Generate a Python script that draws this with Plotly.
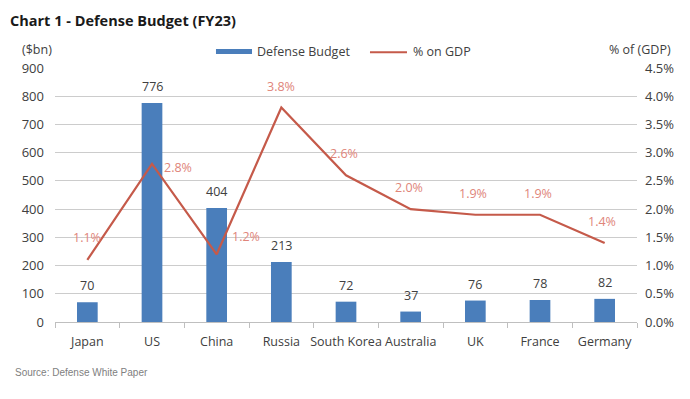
import plotly.graph_objects as go

countries = ["Japan", "US", "China", "Russia", "South Korea", "Australia", "UK", "France", "Germany"]
budget_bn = [70, 776, 404, 213, 72, 37, 76, 78, 82]
pct_gdp = [1.1, 2.8, 1.2, 3.8, 2.6, 2.0, 1.9, 1.9, 1.4]
pct_labels = ["1.1%", "2.8%", "1.2%", "3.8%", "2.6%", "2.0%", "1.9%", "1.9%", "1.4%"]
left_ticks = [0, 100, 200, 300, 400, 500, 600, 700, 800, 900]
right_ticks = [0, 0.5, 1.0, 1.5, 2.0, 2.5, 3.0, 3.5, 4.0, 4.5]
right_tick_text = ["0.0%", "0.5%", "1.0%", "1.5%", "2.0%", "2.5%", "3.0%", "3.5%", "4.0%", "4.5%"]

# label placement offsets (pixels) for the % labels: (xanchor, xshift, yanchor, yshift)
pct_offsets = [
    ("center", 0, "bottom", 12),
    ("left", 10, "middle", -4),
    ("left", 13, "middle", 18),
    ("center", 0, "bottom", 11),
    ("center", -2, "bottom", 11),
    ("center", -2, "bottom", 11),
    ("center", -2, "bottom", 11),
    ("center", -2, "bottom", 11),
    ("center", -3, "bottom", 11),
]

FONT = "Open Sans"
TXT = "#404040"
BAR = "#4A7EBB"
LINE = "#C55A4A"

fig = go.Figure()
fig.add_trace(go.Bar(
    x=countries, y=budget_bn, name="Defense Budget",
    marker=dict(color=BAR, line=dict(width=0)),
    width=0.32, showlegend=False,
))
fig.add_trace(go.Scatter(
    x=countries, y=pct_gdp, name="% on GDP", yaxis="y2",
    mode="lines", line=dict(color=LINE, width=2.2), showlegend=False,
))

for c, v in zip(countries, budget_bn):
    fig.add_annotation(x=c, y=v, xref="x", yref="y", text=str(v), showarrow=False,
                       yanchor="bottom", yshift=6,
                       font=dict(family=FONT, size=12.5, color=TXT))

for c, v, t, (xa, xs, ya, ys) in zip(countries, pct_gdp, pct_labels, pct_offsets):
    fig.add_annotation(x=c, y=v, xref="x", yref="y2", text=t, showarrow=False,
                       xanchor=xa, xshift=xs, yanchor=ya, yshift=ys,
                       font=dict(family=FONT, size=12.5, color="#E0857A"))

# custom legend (wide bar swatch, line swatch)
fig.add_shape(type="rect", xref="paper", yref="paper", x0=0.2766, x1=0.3385,
              y0=1.0551, y1=1.0748, fillcolor=BAR, line=dict(width=0))
fig.add_annotation(text="Defense Budget", xref="paper", yref="paper", x=0.3436, y=1.066,
                   xanchor="left", yanchor="middle", showarrow=False,
                   font=dict(family=FONT, size=12.5, color=TXT))
fig.add_shape(type="line", xref="paper", yref="paper", x0=0.5412, x1=0.6048,
              y0=1.062, y1=1.062, line=dict(color=LINE, width=2.2))
fig.add_annotation(text="% on GDP", xref="paper", yref="paper", x=0.611, y=1.066,
                   xanchor="left", yanchor="middle", showarrow=False,
                   font=dict(family=FONT, size=12.5, color=TXT))

fig.update_layout(
    width=682, height=391,
    margin=dict(l=47, r=53, t=60, b=77, autoexpand=False),
    paper_bgcolor="white", plot_bgcolor="white",
    font=dict(family=FONT, size=12, color=TXT),
    showlegend=False,
    xaxis=dict(
        type="category", showgrid=False, showline=True, linecolor="#bfbfbf", linewidth=1,
        ticks="outside", tickson="boundaries", ticklen=5, tickcolor="#bfbfbf",
        tickangle=0, automargin=False, ticklabelstandoff=8,
        tickfont=dict(family=FONT, size=12.5, color=TXT),
    ),
    yaxis=dict(
        range=[0, 900], tickvals=left_ticks, showgrid=True, gridcolor="#cccccc", gridwidth=1,
        zeroline=False, showline=False, tickfont=dict(family=FONT, size=13, color=TXT),
        ticks="", automargin=False, ticklabelstandoff=10,
    ),
    yaxis2=dict(
        range=[0, 4.5], tickvals=right_ticks, ticktext=right_tick_text,
        overlaying="y", side="right", automargin=False, ticklabelstandoff=7,
        showgrid=False, zeroline=False, showline=False,
        tickfont=dict(family=FONT, size=13, color=TXT),
    ),
    bargap=0.68,
)

fig.add_annotation(text="<b>Chart 1 - Defense Budget (FY23)</b>", xref="paper", yref="paper",
                   x=-0.081, y=1.0, xanchor="left", yanchor="bottom", yshift=36,
                   showarrow=False, font=dict(family=FONT, size=14.5, color="#1a1a1a"))
fig.add_annotation(text="($bn)", xref="paper", yref="paper", x=-0.06, y=1.0,
                   xanchor="left", yanchor="bottom", yshift=8, showarrow=False,
                   font=dict(family=FONT, size=12.5, color=TXT))
fig.add_annotation(text="% of (GDP)", xref="paper", yref="paper", x=1.062, y=1.0,
                   xanchor="right", yanchor="bottom", yshift=8, showarrow=False,
                   font=dict(family=FONT, size=12.5, color=TXT))
fig.add_annotation(text="Source: Defense White Paper", xref="paper", yref="paper",
                   x=-0.073, y=0, xanchor="left", yanchor="top", yshift=-43, showarrow=False,
                   font=dict(family="Liberation Sans", size=10, color="#808080"))

fig.write_html("out.html")
